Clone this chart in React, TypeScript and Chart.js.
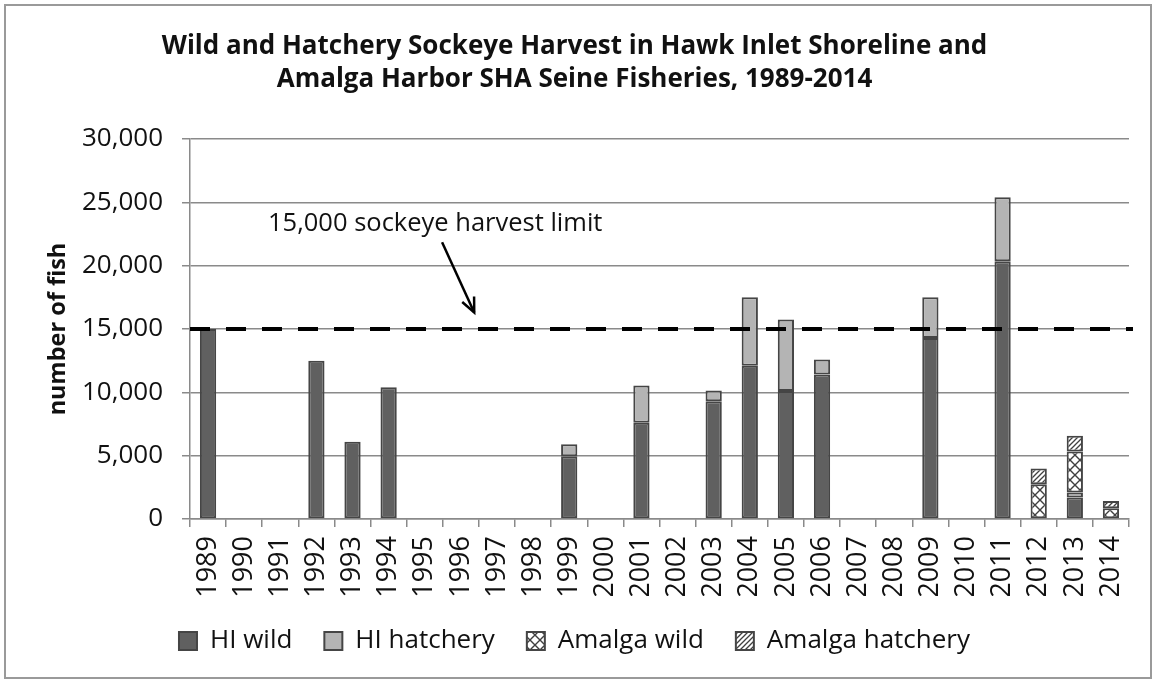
import React, { useEffect, useRef } from "react";
import { Chart, registerables } from "chart.js";

Chart.register(...registerables);

const TITLE_LINES = [
  "Wild and Hatchery Sockeye Harvest in Hawk Inlet Shoreline and",
  "Amalga Harbor SHA Seine Fisheries, 1989-2014",
];
const Y_TITLE = "number of fish";

const YEARS = [
  "1989", "1990", "1991", "1992", "1993", "1994", "1995", "1996", "1997",
  "1998", "1999", "2000", "2001", "2002", "2003", "2004", "2005", "2006",
  "2007", "2008", "2009", "2010", "2011", "2012", "2013", "2014",
];

const HI_WILD = [
  15000, null, null, 12500, 6100, 10400, null, null, null,
  null, 4950, null, 7600, null, 9300, 12100, 10100, 11400,
  null, null, 14300, null, 20350, null, 1700, null,
];
const HI_HATCHERY = [
  null, null, null, null, null, null, null, null, null,
  null, 950, null, 2950, null, 850, 5400, 5650, 1200,
  null, null, 3200, null, 5050, null, 400, null,
];
const AMALGA_WILD = [
  null, null, null, null, null, null, null, null, null,
  null, null, null, null, null, null, null, null, null,
  null, null, null, null, null, 2750, 3230, 850,
];
const AMALGA_HATCHERY = [
  null, null, null, null, null, null, null, null, null,
  null, null, null, null, null, null, null, null, null,
  null, null, null, null, null, 1230, 1240, 580,
];

const Y_MAX = 30000;
const Y_STEP = 5000;
const LIMIT = 15000;
const LIMIT_LABEL = "15,000 sockeye harvest limit";
// annotation anchors in data units (category index, fish)
const LABEL_AT = { x: 1.66, y: 23300 };
const ARROW_FROM = { x: 6.48, y: 21850 };
const ARROW_TO = { x: 7.37, y: 16300 };

const FONT = "'Open Sans', 'Liberation Sans', sans-serif";

function makeCrossPattern(): CanvasPattern | string {
  const c = document.createElement("canvas");
  c.width = 10;
  c.height = 10;
  const g = c.getContext("2d");
  if (!g) return "#fff";
  g.fillStyle = "#ffffff";
  g.fillRect(0, 0, 10, 10);
  g.strokeStyle = "#404040";
  g.lineWidth = 1.4;
  g.beginPath();
  g.moveTo(0, 0);
  g.lineTo(10, 10);
  g.moveTo(10, 0);
  g.lineTo(0, 10);
  g.stroke();
  return g.createPattern(c, "repeat") || "#fff";
}

function makeStripePattern(): CanvasPattern | string {
  const s = 5;
  const c = document.createElement("canvas");
  c.width = s;
  c.height = s;
  const g = c.getContext("2d");
  if (!g) return "#fff";
  g.fillStyle = "#ffffff";
  g.fillRect(0, 0, s, s);
  g.strokeStyle = "#404040";
  g.lineWidth = 1.3;
  g.beginPath();
  g.moveTo(-1, s + 1);
  g.lineTo(s + 1, -1);
  g.moveTo(-1, 1);
  g.lineTo(1, -1);
  g.moveTo(s - 1, s + 1);
  g.lineTo(s + 1, s - 1);
  g.stroke();
  return g.createPattern(c, "repeat") || "#fff";
}

const framePlugin = {
  id: "frame",
  beforeDraw(chart: any) {
    const { ctx, width, height } = chart;
    ctx.save();
    ctx.fillStyle = "#ffffff";
    ctx.fillRect(0, 0, width, height);
    ctx.strokeStyle = "#9a9a9a";
    ctx.lineWidth = 2;
    ctx.strokeRect(5, 5, width - 10, height - 8);
    ctx.restore();
  },
};

const limitPlugin = {
  id: "limit",
  afterDatasetsDraw(chart: any) {
    const { ctx, chartArea } = chart;
    const xs = chart.scales.x;
    const ys = chart.scales.y;
    const y = ys.getPixelForValue(LIMIT);
    ctx.save();
    ctx.strokeStyle = "#000000";
    ctx.lineWidth = 4;
    ctx.setLineDash([20, 16]);
    ctx.beginPath();
    ctx.moveTo(chartArea.left, y);
    ctx.lineTo(chartArea.right + 4, y);
    ctx.stroke();
    ctx.setLineDash([]);

    // label
    ctx.fillStyle = "#111111";
    ctx.font = `25.5px ${FONT}`;
    ctx.textAlign = "left";
    ctx.textBaseline = "middle";
    ctx.fillText(LIMIT_LABEL, xs.getPixelForValue(LABEL_AT.x), ys.getPixelForValue(LABEL_AT.y));

    // arrow
    const x1 = xs.getPixelForValue(ARROW_FROM.x);
    const y1 = ys.getPixelForValue(ARROW_FROM.y);
    const x2 = xs.getPixelForValue(ARROW_TO.x);
    const y2 = ys.getPixelForValue(ARROW_TO.y);
    const ang = Math.atan2(y2 - y1, x2 - x1);
    ctx.strokeStyle = "#000000";
    ctx.lineWidth = 2.5;
    ctx.beginPath();
    ctx.moveTo(x1, y1);
    ctx.lineTo(x2, y2);
    ctx.stroke();
    const hl = 16;
    const ha = 0.42;
    ctx.beginPath();
    ctx.moveTo(x2 - hl * Math.cos(ang - ha), y2 - hl * Math.sin(ang - ha));
    ctx.lineTo(x2, y2);
    ctx.lineTo(x2 - hl * Math.cos(ang + ha), y2 - hl * Math.sin(ang + ha));
    ctx.stroke();
    ctx.restore();
  },
};

export default function App() {
  const ref = useRef<HTMLCanvasElement | null>(null);

  useEffect(() => {
    document.body.style.margin = "0";
    const canvas = ref.current;
    if (!canvas) return;
    const border = "#454545";
    const common = {
      borderColor: border,
      borderWidth: 2,
      borderSkipped: false as const,
      barPercentage: 0.45,
      categoryPercentage: 1,
    };
    const chart = new Chart(canvas, {
      type: "bar",
      data: {
        labels: YEARS,
        datasets: [
          { label: "HI wild", data: HI_WILD, backgroundColor: "#606060", ...common },
          { label: "HI hatchery", data: HI_HATCHERY, backgroundColor: "#b4b4b4", ...common },
          { label: "Amalga wild", data: AMALGA_WILD, backgroundColor: makeCrossPattern() as any, ...common },
          { label: "Amalga hatchery", data: AMALGA_HATCHERY, backgroundColor: makeStripePattern() as any, ...common },
        ],
      },
      options: {
        animation: false,
        responsive: false,
        maintainAspectRatio: false,
        layout: { padding: { left: 20, right: 27, top: 13, bottom: 17 } },
        plugins: {
          title: {
            display: true,
            text: TITLE_LINES,
            color: "#111111",
            font: { family: FONT, size: 26, weight: "bold", lineHeight: 1.27 },
            padding: { top: 17, bottom: 43 },
          },
          legend: {
            position: "bottom",
            labels: {
              color: "#111111",
              font: { family: FONT, size: 26 },
              boxWidth: 18,
              boxHeight: 18,
              padding: 32,
            },
          },
          tooltip: { enabled: false },
        },
        scales: {
          x: {
            stacked: true,
            grid: {
              drawOnChartArea: false,
              drawTicks: true,
              tickLength: 8,
              color: "#8a8a8a",
              lineWidth: 1.5,
            },
            border: { color: "#8a8a8a", width: 1.5 },
            ticks: {
              color: "#111111",
              font: { family: FONT, size: 27 },
              minRotation: 90,
              maxRotation: 90,
              padding: 9,
              autoSkip: false,
            },
            afterFit: (s: any) => {
              s.height = 77;
            },
          },
          y: {
            stacked: true,
            min: 0,
            max: Y_MAX,
            grid: { color: "#8a8a8a", lineWidth: 1.5, tickLength: 8 },
            border: { color: "#8a8a8a", width: 1.5 },
            ticks: {
              stepSize: Y_STEP,
              color: "#111111",
              font: { family: FONT, size: 26 },
              padding: 19,
              callback: (v: any) => Number(v).toLocaleString("en-US"),
            },
            title: {
              display: true,
              text: Y_TITLE,
              color: "#111111",
              font: { family: FONT, size: 23.5, weight: "bold" },
              padding: { top: 24, bottom: 0 },
            },
            afterFit: (s: any) => {
              s.width = 170;
            },
          },
        },
      },
      plugins: [framePlugin, limitPlugin],
    });
    return () => chart.destroy();
  }, []);

  return (
    <div style={{ width: 1156, height: 681 }}>
      <canvas ref={ref} width={1156} height={681} style={{ display: "block" }} />
    </div>
  );
}
